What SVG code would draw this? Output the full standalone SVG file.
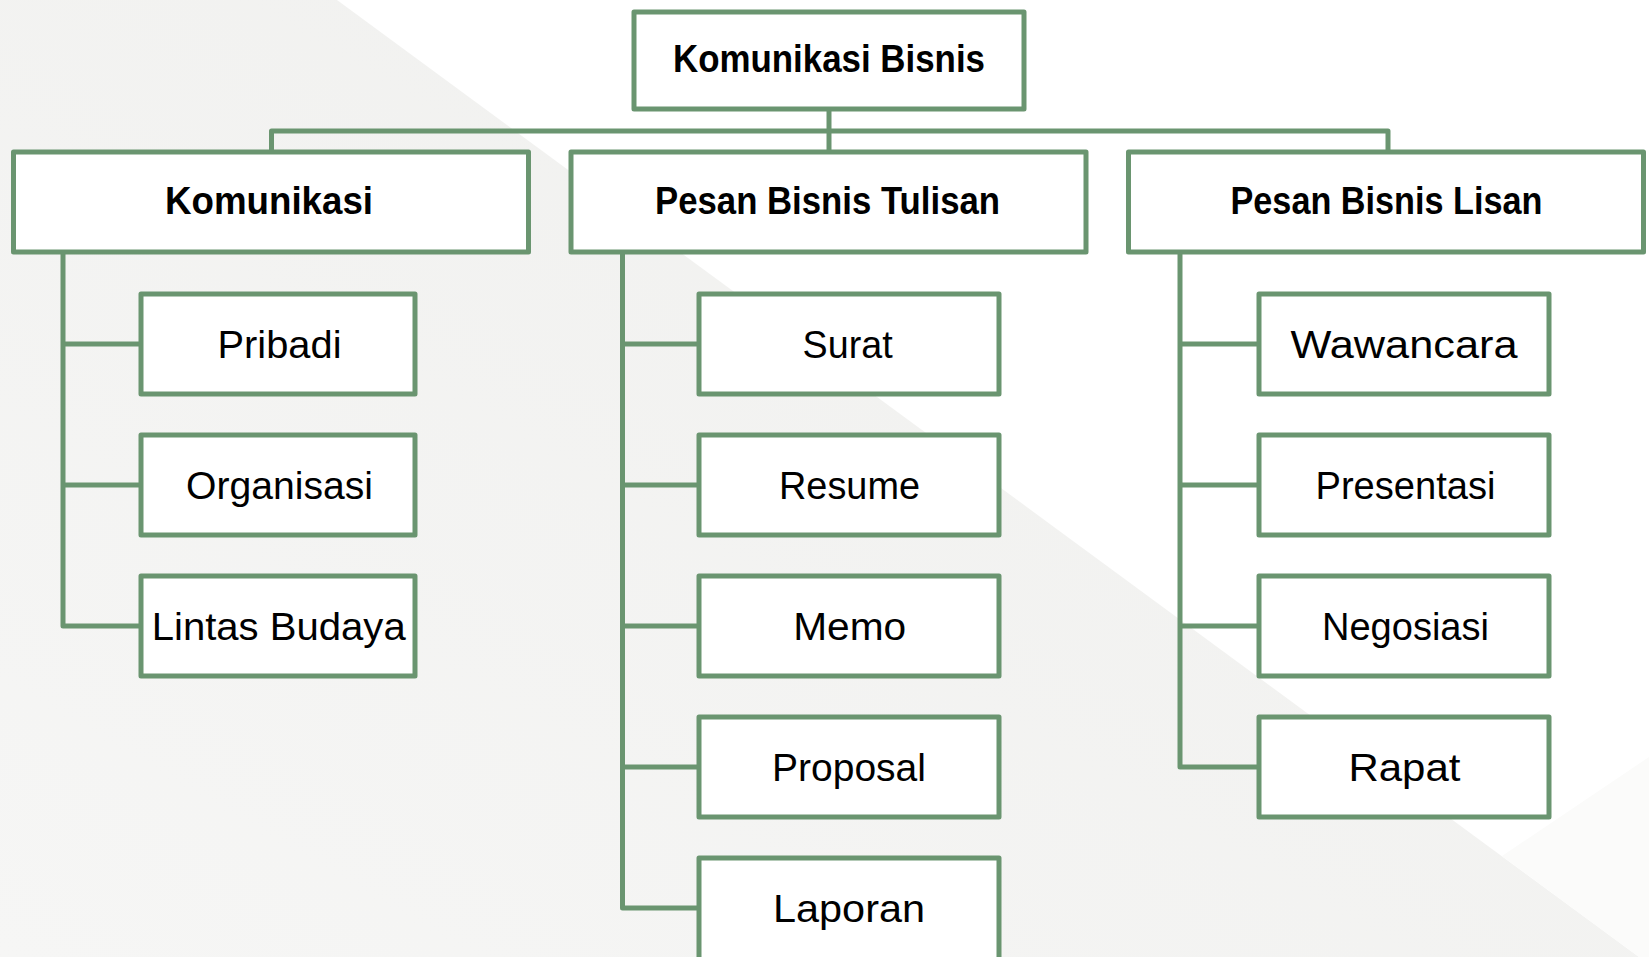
<svg xmlns="http://www.w3.org/2000/svg" width="1649" height="957" viewBox="0 0 1649 957">
  <defs>
    <linearGradient id="bgGray" x1="0" y1="1" x2="1" y2="0">
      <stop offset="0" stop-color="#f6f6f5"/>
      <stop offset="1" stop-color="#efefed"/>
    </linearGradient>
  </defs>
  <style>
    .box { fill: #ffffff; stroke: #6a9570; stroke-width: 5; stroke-linejoin: round; }
    .conn { fill: none; stroke: #6a9570; stroke-width: 5; stroke-linejoin: round; }
    .hdr { font-family: "Liberation Sans", Arial, sans-serif; font-weight: bold; font-size: 38px; fill: #000000; text-anchor: middle; }
    .itm { font-family: "Liberation Sans", Arial, sans-serif; font-weight: normal; font-size: 38px; fill: #000000; text-anchor: middle; }
  </style>

  <rect x="0" y="0" width="1649" height="957" fill="#ffffff"/>
  <polygon points="0,0 337,0 1639,957 0,957" fill="url(#bgGray)"/>
  <polygon points="1502,856 1649,757 1649,957 1639,957" fill="#fbfbfa"/>

  <g id="connectors">
    <path class="conn" d="M829,109 V152"/>
    <path class="conn" d="M271.5,152 V131 H1388 V152"/>
    <path class="conn" d="M63,252 V626 H141 M63,344 H141 M63,485 H141"/>
    <path class="conn" d="M622.5,252 V908 H699 M622.5,344 H699 M622.5,485 H699 M622.5,626 H699 M622.5,767 H699"/>
    <path class="conn" d="M1180,252 V767 H1260 M1180,344 H1260 M1180,485 H1260 M1180,626 H1260"/>
  </g>

  <g id="node-komunikasi-bisnis">
    <rect class="box" x="634" y="12" width="390" height="97"/>
    <text class="hdr" x="829" y="71.5" textLength="312" lengthAdjust="spacingAndGlyphs">Komunikasi Bisnis</text>
  </g>

  <g id="node-komunikasi">
    <rect class="box" x="13.5" y="152" width="515" height="100"/>
    <text class="hdr" x="269" y="213.5" textLength="208" lengthAdjust="spacingAndGlyphs">Komunikasi</text>
  </g>
  <g id="node-pesan-bisnis-tulisan">
    <rect class="box" x="571" y="152" width="515" height="100"/>
    <text class="hdr" x="827.5" y="213.5" textLength="345" lengthAdjust="spacingAndGlyphs">Pesan Bisnis Tulisan</text>
  </g>
  <g id="node-pesan-bisnis-lisan">
    <rect class="box" x="1128.5" y="152" width="515" height="100"/>
    <text class="hdr" x="1386.5" y="213.5" textLength="312" lengthAdjust="spacingAndGlyphs">Pesan Bisnis Lisan</text>
  </g>

  <g id="node-pribadi">
    <rect class="box" x="141" y="294" width="274" height="100"/>
    <text class="itm" x="279.5" y="357.5" textLength="124" lengthAdjust="spacingAndGlyphs">Pribadi</text>
  </g>
  <g id="node-organisasi">
    <rect class="box" x="141" y="435" width="274" height="100"/>
    <text class="itm" x="279.5" y="498.5" textLength="187" lengthAdjust="spacingAndGlyphs">Organisasi</text>
  </g>
  <g id="node-lintas-budaya">
    <rect class="box" x="141" y="576" width="274" height="100"/>
    <text class="itm" x="278.7" y="639.5" textLength="254" lengthAdjust="spacingAndGlyphs">Lintas Budaya</text>
  </g>

  <g id="node-surat">
    <rect class="box" x="699" y="294" width="300" height="100"/>
    <text class="itm" x="847.6" y="357.5" textLength="90" lengthAdjust="spacingAndGlyphs">Surat</text>
  </g>
  <g id="node-resume">
    <rect class="box" x="699" y="435" width="300" height="100"/>
    <text class="itm" x="849.5" y="498.5" textLength="141" lengthAdjust="spacingAndGlyphs">Resume</text>
  </g>
  <g id="node-memo">
    <rect class="box" x="699" y="576" width="300" height="100"/>
    <text class="itm" x="849.7" y="639.5" textLength="113" lengthAdjust="spacingAndGlyphs">Memo</text>
  </g>
  <g id="node-proposal">
    <rect class="box" x="699" y="717" width="300" height="100"/>
    <text class="itm" x="849" y="780.5" textLength="154" lengthAdjust="spacingAndGlyphs">Proposal</text>
  </g>
  <g id="node-laporan">
    <rect class="box" x="699" y="858" width="300" height="140"/>
    <text class="itm" x="849" y="921.5" textLength="152" lengthAdjust="spacingAndGlyphs">Laporan</text>
  </g>

  <g id="node-wawancara">
    <rect class="box" x="1259" y="294" width="290" height="100"/>
    <text class="itm" x="1404" y="357.5" textLength="227" lengthAdjust="spacingAndGlyphs">Wawancara</text>
  </g>
  <g id="node-presentasi">
    <rect class="box" x="1259" y="435" width="290" height="100"/>
    <text class="itm" x="1405.5" y="498.5" textLength="180" lengthAdjust="spacingAndGlyphs">Presentasi</text>
  </g>
  <g id="node-negosiasi">
    <rect class="box" x="1259" y="576" width="290" height="100"/>
    <text class="itm" x="1405.5" y="639.5" textLength="167" lengthAdjust="spacingAndGlyphs">Negosiasi</text>
  </g>
  <g id="node-rapat">
    <rect class="box" x="1259" y="717" width="290" height="100"/>
    <text class="itm" x="1404.4" y="780.5" textLength="112" lengthAdjust="spacingAndGlyphs">Rapat</text>
  </g>
</svg>
